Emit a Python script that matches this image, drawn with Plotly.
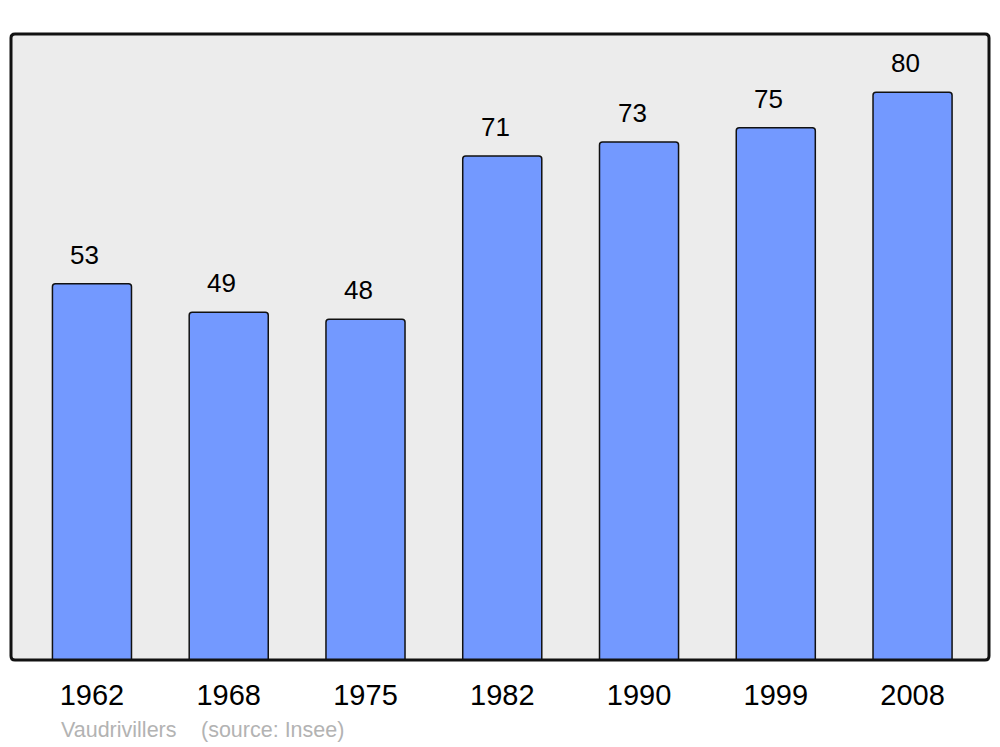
import plotly.graph_objects as go

years = ["1962", "1968", "1975", "1982", "1990", "1999", "2008"]
population = [53, 49, 48, 71, 73, 75, 80]

W, H = 1000, 747
OFF = 8  # page body margin
# desired plot area in screen pixels: x 11..989, y 34..660
L, T = 11 - OFF, 34 - OFF
R = W - (989 - OFF)
B = H - (660 - OFF)
pw, ph = W - L - R, H - T - B

def px_x(sx):
    return (sx - OFF - L) / pw

def px_y(sy):
    return 1 - (sy - OFF - T) / ph

FONT = "Liberation Sans, Arial, sans-serif"

fig = go.Figure()
fig.add_trace(go.Bar(
    x=list(range(len(years))), y=population,
    width=0.578,
    marker=dict(color="#7399ff", line=dict(color="#111111", width=1.5), cornerradius=3),
    hoverinfo="skip",
))

for i, v in enumerate(population):
    fig.add_annotation(x=i, y=v, text=str(v), showarrow=False, yanchor="middle",
                       yshift=29, xshift=-7,
                       font=dict(family=FONT, size=26, color="#000000"))

fig.add_annotation(xref="paper", yref="paper", x=px_x(59), y=px_y(730),
                   xanchor="left", yanchor="middle", showarrow=False, text="Vaudrivillers",
                   font=dict(family=FONT, size=21.5, color="#b3b3b3"))
fig.add_annotation(xref="paper", yref="paper", x=px_x(199), y=px_y(730),
                   xanchor="left", yanchor="middle", showarrow=False, text="(source: Insee)",
                   font=dict(family=FONT, size=21.5, color="#b3b3b3"))

# rounded frame
r = 4.0
rx, ry = r / pw, r / ph
path = (f"M {rx},0 L {1-rx},0 Q 1,0 1,{ry} L 1,{1-ry} Q 1,1 {1-rx},1 "
        f"L {rx},1 Q 0,1 0,{1-ry} L 0,{ry} Q 0,0 {rx},0 Z")
fig.add_shape(type="path", xref="paper", yref="paper", path=path,
              line=dict(color="#111111", width=3), layer="above")

fig.update_layout(
    width=W, height=H,
    margin=dict(l=L, r=R, t=T, b=B, pad=0),
    paper_bgcolor="#ffffff", plot_bgcolor="#ececec",
    showlegend=False,
    xaxis=dict(range=[-0.592, 6.559], tickmode="array", tickvals=list(range(len(years))),
               ticktext=years, showgrid=False, zeroline=False, ticks="", ticklabelstandoff=15,
               tickfont=dict(family=FONT, size=29, color="#000000")),
    yaxis=dict(range=[0, 88.2], showgrid=False, zeroline=False, showticklabels=False, ticks=""),
)

fig.write_html("out.html")
